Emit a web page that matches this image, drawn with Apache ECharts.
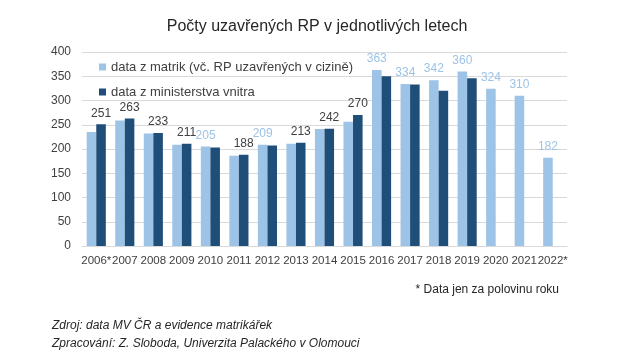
<!DOCTYPE html>
<html lang="cs">

<head>
  <meta charset="UTF-8">
  <title>Počty uzavřených RP</title>
  <style>
    html,
    body {
      width: 100%;
      height: 100%;
      padding: 0;
      margin: 0;
      background: #fff;
    }

    #eChart {
      width: 634px;
      height: 353px;
    }
  </style>
</head>

<body>
  <div id="eChart"></div>

  <script src="https://cdn.jsdelivr.net/npm/echarts@6/dist/echarts.min.js"></script>
  <script>
    var years = ['2006*', '2007', '2008', '2009', '2010', '2011', '2012', '2013', '2014',
      '2015', '2016', '2017', '2018', '2019', '2020', '2021', '2022*'];
    // data z matrik (vč. RP uzavřených v cizině)
    var matrik = [235, 259, 232, 209, 205, 186, 209, 211, 241, 256, 363, 334, 342, 360, 324, 310, 182];
    // data z ministerstva vnitra
    var ministerstvo = [251, 263, 233, 211, 203, 188, 207, 213, 242, 270, 350, 333, 320, 346, null, null, null];
    var yTicks = [0, 50, 100, 150, 200, 250, 300, 350, 400];

    var LIGHT = '#9dc3e6';
    var DARK = '#1f4e79';
    var FONT = '"Liberation Sans", Arial, sans-serif';

    // popisek jen nad vyšším sloupcem
    function withLabels(values, other, color) {
      return values.map(function (v, i) {
        var o = other[i];
        var show = v != null && (o == null || v > o);
        return {
          value: v,
          label: { show: show, color: color }
        };
      });
    }

    var myChart = echarts.init(document.getElementById('eChart'));

    myChart.setOption({
      backgroundColor: '#fff',
      animation: false,
      textStyle: { fontFamily: FONT },
      title: [
        {
          text: 'Počty uzavřených RP v jednotlivých letech',
          left: 'center',
          top: 14,
          textStyle: { fontFamily: FONT, fontSize: 16, fontWeight: 'normal', color: '#262626' }
        },
        {
          text: '* Data jen za polovinu roku',
          right: 70,
          top: 279,
          textStyle: { fontFamily: FONT, fontSize: 12, fontWeight: 'normal', color: '#262626' }
        },
        {
          text: 'Zdroj: data MV ČR a evidence matrikářek\nZpracování: Z. Sloboda, Univerzita Palackého v Olomouci',
          left: 47,
          top: 312,
          textStyle: {
            fontFamily: FONT, fontSize: 12, fontStyle: 'italic', fontWeight: 'normal',
            color: '#262626', lineHeight: 18
          }
        }
      ],
      legend: {
        orient: 'vertical',
        left: 94,
        top: 54,
        itemWidth: 7,
        itemHeight: 7,
        itemGap: 9,
        icon: 'rect',
        textStyle: { fontFamily: FONT, fontSize: 13, color: '#404040', lineHeight: 16 },
        data: ['data z matrik (vč. RP uzavřených v cizině)', 'data z ministerstva vnitra']
      },
      grid: { left: 82, right: 67, top: 52, bottom: 107 },
      xAxis: {
        type: 'category',
        data: years,
        axisTick: { show: false },
        axisLine: { lineStyle: { color: '#d9d9d9' } },
        axisLabel: { color: '#404040', fontSize: 11.5, margin: 9, interval: 0 }
      },
      yAxis: {
        type: 'value',
        min: yTicks[0],
        max: yTicks[yTicks.length - 1],
        interval: yTicks[1] - yTicks[0],
        axisLabel: { color: '#404040', fontSize: 12, margin: 11 },
        splitLine: { lineStyle: { color: '#d9d9d9' } }
      },
      series: [
        {
          name: 'data z matrik (vč. RP uzavřených v cizině)',
          type: 'bar',
          data: withLabels(matrik, ministerstvo, LIGHT),
          itemStyle: { color: LIGHT },
          barGap: '0%',
          barCategoryGap: '33%',
          label: { position: 'top', distance: 5, fontSize: 12, fontFamily: FONT }
        },
        {
          name: 'data z ministerstva vnitra',
          type: 'bar',
          data: withLabels(ministerstvo, matrik, '#404040'),
          itemStyle: { color: DARK },
          barGap: '0%',
          barCategoryGap: '33%',
          label: { position: 'top', distance: 5, fontSize: 12, fontFamily: FONT }
        }
      ]
    });
  </script>
</body>

</html>
